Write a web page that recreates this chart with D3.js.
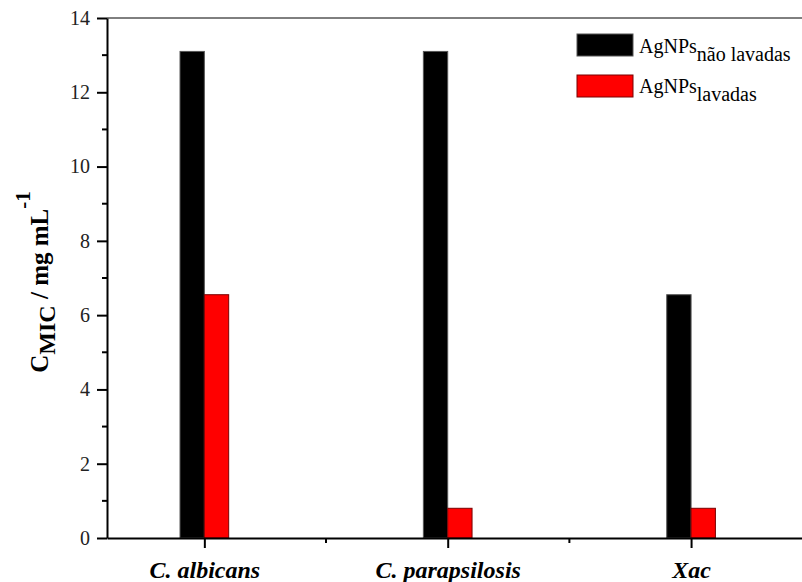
<!DOCTYPE html>
<html>
<head>
<meta charset="utf-8">
<script src="https://cdn.jsdelivr.net/npm/d3@7"></script>
<style>
  body { margin: 0; background: #fff; }
  text, tspan { font-family: "Liberation Serif", "Times New Roman", serif; }
</style>
</head>
<body>
<div id="chart"></div>
<script>
// --- DATA ---
var categories = ["C. albicans", "C. parapsilosis", "Xac"];
var naoLavadas = [13.1, 13.1, 6.55];
var lavadas = [6.55, 0.8, 0.8];
var yTicks = [0, 2, 4, 6, 8, 10, 12, 14];
var seriesNames = ["não lavadas", "lavadas"];
var seriesColors = ["#000000", "#ff0000"];
var seriesStroke = ["#555555", "#7a0000"];

// --- SETUP ---
var width = 802, height = 582;
var svg = d3.select("#chart").append("svg")
  .attr("width", width).attr("height", height);

var plotLeft = 107, plotTop = 18, plotBottom = 538;

var x = d3.scaleLinear().domain([0.6, 3.5]).range([plotLeft, 812.75]);
var y = d3.scaleLinear().domain([0, 14]).range([plotBottom, plotTop]);
var barW = x(1.1) - x(1);

// top frame line
svg.append("line")
  .attr("x1", plotLeft).attr("x2", width).attr("y1", plotTop).attr("y2", plotTop)
  .attr("stroke", "#000").attr("stroke-width", 1);

// --- BARS ---
var series = [naoLavadas, lavadas];
series.forEach(function(vals, s) {
  svg.selectAll(".bar" + s)
    .data(vals).enter().append("rect")
    .attr("class", "bar" + s)
    .attr("x", (d, i) => s === 0 ? x(i + 1) - barW : x(i + 1))
    .attr("y", d => y(d))
    .attr("width", barW)
    .attr("height", d => y(0) - y(d))
    .attr("fill", seriesColors[s])
    .attr("stroke", seriesStroke[s])
    .attr("stroke-width", 1);
});

// --- Y AXIS ---
var yAxis = svg.append("g").attr("transform", "translate(" + plotLeft + ",0)");
yAxis.call(d3.axisLeft(y).tickValues(yTicks).tickSize(10).tickSizeOuter(0).tickPadding(7))
  .call(g => g.select(".domain").attr("stroke-width", 2))
  .call(g => g.selectAll(".tick line").attr("stroke-width", 2))
  .call(g => g.selectAll("text").attr("font-size", "20px").attr("fill", "#222")
    .style("font-family", "Liberation Serif"));
// minor ticks
yAxis.selectAll(".minor").data(d3.range(1, 14, 2)).enter().append("line")
  .attr("x1", -5).attr("x2", 0)
  .attr("y1", d => y(d)).attr("y2", d => y(d))
  .attr("stroke", "#000").attr("stroke-width", 2);

// --- X AXIS ---
var xAxis = svg.append("g").attr("transform", "translate(0," + plotBottom + ")");
xAxis.call(d3.axisBottom(x).tickValues([1, 2, 3]).tickSize(10).tickSizeOuter(0)
    .tickFormat((d, i) => categories[i]).tickPadding(13))
  .call(g => g.select(".domain").attr("stroke-width", 2))
  .call(g => g.selectAll(".tick line").attr("stroke-width", 2))
  .call(g => g.selectAll("text").attr("font-size", "24px").attr("font-weight", "bold")
    .attr("font-style", "italic").attr("fill", "#000").style("font-family", "Liberation Serif"));
xAxis.selectAll(".minor").data([1.5, 2.5]).enter().append("line")
  .attr("x1", d => x(d)).attr("x2", d => x(d))
  .attr("y1", 0).attr("y2", 5)
  .attr("stroke", "#000").attr("stroke-width", 2);

// --- Y TITLE ---
var yt = svg.append("text")
  .attr("transform", "translate(48,282) rotate(-90)")
  .attr("text-anchor", "middle")
  .style("font-family", "Liberation Serif")
  .attr("font-size", "25px").attr("font-weight", "bold");
yt.append("tspan").text("C");
yt.append("tspan").attr("dy", 7).attr("font-size", "24px").text("MIC");
yt.append("tspan").attr("dy", -7).text(" / mg mL");
yt.append("tspan").attr("dy", -18).attr("font-size", "21px").text("-1");

// --- LEGEND ---
var legend = svg.append("g").attr("transform", "translate(577,34)");
seriesNames.forEach(function(name, i) {
  var g = legend.append("g").attr("transform", "translate(0," + i * 41 + ")");
  g.append("rect").attr("width", 56).attr("height", 22)
    .attr("fill", seriesColors[i]).attr("stroke", seriesStroke[i]).attr("stroke-width", 1);
  var t = g.append("text").attr("x", 62).attr("y", 19 - i * 1).attr("font-size", "20px")
    .style("font-family", "Liberation Serif").attr("fill", "#000");
  t.append("tspan").text("AgNPs");
  t.append("tspan").attr("dy", 8).text(name);
});
</script>
</body>
</html>
